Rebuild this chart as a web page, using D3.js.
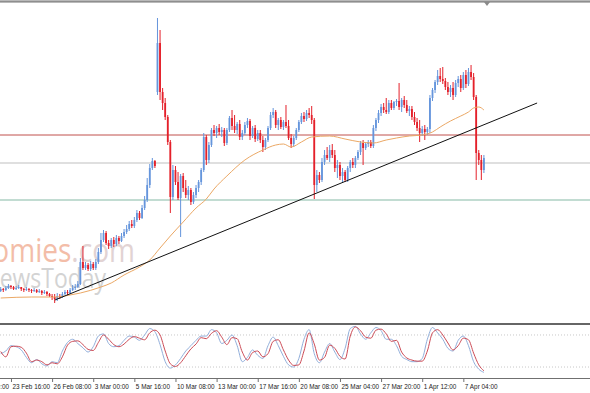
<!DOCTYPE html>
<html>
<head>
<meta charset="utf-8">
<script src="https://cdn.jsdelivr.net/npm/d3@7"></script>
<style>
  html, body { margin: 0; padding: 0; background: #fff; }
  svg { display: block; }
</style>
</head>
<body>
<svg id="chart" width="590" height="393"></svg>
<script>
// H4 candles, one value per bar (bar 0 .. 188)
const opens = [
  119.09, 119.11, 119.10, 119.12, 119.14, 119.13, 119.11, 119.12, 119.13, 119.11,
  119.10, 119.11, 119.10, 119.09, 119.10, 119.08, 119.09, 119.07, 119.08, 119.06,
  119.04, 119.03, 119.01, 119.04, 119.03, 119.06, 119.08, 119.07, 119.10, 119.12,
  119.13, 119.16, 119.38, 119.32, 119.35, 119.31, 119.36, 119.32, 119.38, 119.48,
  119.60, 119.67, 119.57, 119.54, 119.60, 119.56, 119.62, 119.59, 119.64, 119.68,
  119.71, 119.76, 119.74, 119.80, 119.87, 119.82, 119.92, 120.00, 120.15, 120.32,
  120.39, 121.08, 121.57, 121.08, 120.97, 120.83, 120.58, 120.03, 120.30, 120.18,
  120.02, 120.24, 120.12, 120.05, 120.10, 119.98, 120.05, 120.12, 120.18, 120.30,
  120.63, 120.40, 120.55, 120.70, 120.67, 120.72, 120.68, 120.70, 120.57, 120.70,
  120.82, 120.74, 120.70, 120.76, 120.63, 120.67, 120.75, 120.79, 120.64, 120.72,
  120.61, 120.67, 120.60, 120.53, 120.60, 120.72, 120.85, 120.88, 120.75, 120.80,
  120.73, 120.78, 120.74, 120.62, 120.56, 120.62, 120.70, 120.78, 120.84, 120.81,
  120.87, 120.85, 120.80, 120.15, 120.25, 120.20, 120.38, 120.45, 120.42, 120.50,
  120.45, 120.32, 120.35, 120.24, 120.28, 120.20, 120.32, 120.38, 120.35, 120.42,
  120.48, 120.57, 120.52, 120.56, 120.58, 120.54, 120.72, 120.80, 120.87, 120.93,
  120.90, 120.88, 120.97, 120.92, 120.98, 120.99, 120.93, 121.00, 120.95, 120.89,
  120.91, 120.83, 120.78, 120.72, 120.67, 120.71, 120.68, 120.71, 121.02, 121.10,
  121.18, 121.24, 121.21, 121.19, 121.13, 121.08, 121.12, 121.05, 121.17, 121.21,
  121.12, 121.25, 121.16, 121.28, 121.23, 121.03, 120.47, 120.40, 120.30
];
const highs = [
  119.13, 119.12, 119.14, 119.16, 119.15, 119.14, 119.14, 119.15, 119.13, 119.12,
  119.13, 119.12, 119.11, 119.12, 119.11, 119.11, 119.10, 119.10, 119.09, 119.07,
  119.06, 119.06, 119.07, 119.06, 119.08, 119.10, 119.10, 119.12, 119.15, 119.16,
  119.19, 119.42, 119.54, 119.38, 119.37, 119.39, 119.38, 119.41, 119.52, 119.67,
  119.70, 119.69, 119.60, 119.62, 119.63, 119.65, 119.64, 119.67, 119.71, 119.75,
  119.79, 119.80, 119.83, 119.90, 119.89, 119.95, 120.04, 120.22, 120.36, 120.42,
  120.40, 121.82, 121.70, 121.12, 121.02, 120.85, 120.60, 120.35, 120.34, 120.28,
  120.26, 120.27, 120.20, 120.14, 120.12, 120.08, 120.15, 120.20, 120.32, 120.67,
  120.65, 120.58, 120.72, 120.75, 120.74, 120.76, 120.73, 120.72, 120.72, 120.84,
  120.90, 120.85, 120.78, 120.80, 120.70, 120.78, 120.82, 120.81, 120.74, 120.75,
  120.70, 120.70, 120.64, 120.62, 120.74, 120.88, 120.92, 120.90, 120.82, 120.83,
  120.80, 120.95, 120.80, 120.66, 120.64, 120.72, 120.80, 120.87, 120.88, 120.90,
  120.92, 120.94, 120.82, 120.30, 120.28, 120.42, 120.50, 120.53, 120.55, 120.56,
  120.50, 120.40, 120.38, 120.32, 120.30, 120.34, 120.40, 120.42, 120.44, 120.50,
  120.59, 120.60, 120.58, 120.60, 120.60, 120.75, 120.82, 120.90, 120.96, 120.97,
  121.02, 121.00, 121.00, 120.99, 121.01, 121.17, 121.02, 121.04, 121.00, 120.94,
  120.94, 120.88, 120.82, 120.80, 120.74, 120.75, 120.73, 121.05, 121.12, 121.20,
  121.30, 121.32, 121.33, 121.22, 121.18, 121.15, 121.18, 121.20, 121.24, 121.25,
  121.28, 121.30, 121.32, 121.35, 121.27, 121.05, 120.50, 120.45, 120.45
];
const lows = [
  119.08, 119.08, 119.09, 119.11, 119.11, 119.10, 119.10, 119.11, 119.09, 119.08,
  119.09, 119.08, 119.07, 119.08, 119.07, 119.07, 119.05, 119.06, 119.04, 119.03,
  119.00, 118.97, 118.99, 119.01, 119.02, 119.05, 119.05, 119.06, 119.09, 119.10,
  119.12, 119.15, 119.30, 119.30, 119.29, 119.29, 119.30, 119.30, 119.36, 119.46,
  119.58, 119.55, 119.51, 119.52, 119.53, 119.54, 119.56, 119.58, 119.62, 119.66,
  119.69, 119.72, 119.72, 119.78, 119.80, 119.81, 119.90, 119.98, 120.12, 120.30,
  120.32, 121.05, 121.00, 120.90, 120.80, 120.55, 119.87, 120.00, 120.15, 120.00,
  119.63, 120.08, 120.02, 120.00, 119.95, 119.96, 120.02, 120.08, 120.15, 120.28,
  120.35, 120.37, 120.53, 120.64, 120.62, 120.65, 120.63, 120.54, 120.55, 120.68,
  120.70, 120.67, 120.66, 120.60, 120.60, 120.65, 120.72, 120.60, 120.62, 120.58,
  120.59, 120.57, 120.48, 120.50, 120.58, 120.70, 120.82, 120.72, 120.70, 120.71,
  120.70, 120.72, 120.60, 120.52, 120.53, 120.60, 120.68, 120.76, 120.78, 120.79,
  120.82, 120.76, 120.01, 120.08, 120.17, 120.18, 120.35, 120.40, 120.38, 120.42,
  120.28, 120.22, 120.20, 120.17, 120.18, 120.18, 120.28, 120.32, 120.32, 120.40,
  120.45, 120.35, 120.50, 120.53, 120.52, 120.52, 120.69, 120.77, 120.84, 120.87,
  120.86, 120.86, 120.90, 120.90, 120.94, 120.90, 120.88, 120.92, 120.87, 120.84,
  120.80, 120.75, 120.69, 120.58, 120.64, 120.60, 120.65, 120.67, 120.99, 121.07,
  121.15, 121.18, 121.16, 121.10, 121.05, 121.03, 121.00, 121.03, 121.13, 121.08,
  121.10, 121.12, 121.14, 121.20, 121.00, 120.20, 120.35, 120.20, 120.27
];
const closes = [
  119.11, 119.10, 119.12, 119.14, 119.13, 119.11, 119.12, 119.13, 119.11, 119.10,
  119.11, 119.10, 119.09, 119.10, 119.08, 119.09, 119.07, 119.08, 119.06, 119.04,
  119.03, 119.01, 119.04, 119.03, 119.06, 119.08, 119.07, 119.10, 119.12, 119.13,
  119.16, 119.38, 119.32, 119.35, 119.31, 119.36, 119.32, 119.38, 119.48, 119.60,
  119.67, 119.57, 119.54, 119.60, 119.56, 119.62, 119.59, 119.64, 119.68, 119.71,
  119.76, 119.74, 119.80, 119.87, 119.82, 119.92, 120.00, 120.15, 120.32, 120.39,
  120.34, 121.57, 121.08, 120.97, 120.83, 120.58, 120.03, 120.30, 120.18, 120.02,
  120.24, 120.12, 120.05, 120.10, 119.98, 120.05, 120.12, 120.18, 120.30, 120.63,
  120.40, 120.55, 120.70, 120.67, 120.72, 120.68, 120.70, 120.57, 120.70, 120.82,
  120.74, 120.70, 120.76, 120.63, 120.67, 120.75, 120.79, 120.64, 120.72, 120.61,
  120.67, 120.60, 120.53, 120.60, 120.72, 120.85, 120.88, 120.75, 120.80, 120.73,
  120.78, 120.74, 120.62, 120.56, 120.62, 120.70, 120.78, 120.84, 120.81, 120.87,
  120.85, 120.80, 120.15, 120.25, 120.20, 120.38, 120.45, 120.42, 120.50, 120.45,
  120.32, 120.35, 120.24, 120.28, 120.20, 120.32, 120.38, 120.35, 120.42, 120.48,
  120.57, 120.52, 120.56, 120.58, 120.54, 120.72, 120.80, 120.87, 120.93, 120.90,
  120.88, 120.97, 120.92, 120.98, 120.99, 120.93, 121.00, 120.95, 120.89, 120.91,
  120.83, 120.78, 120.72, 120.67, 120.71, 120.68, 120.71, 121.02, 121.10, 121.18,
  121.24, 121.21, 121.19, 121.13, 121.08, 121.12, 121.05, 121.17, 121.21, 121.12,
  121.25, 121.16, 121.28, 121.23, 121.03, 120.47, 120.40, 120.30, 120.42
];

// moving average at these bars
const maBars = [0, 12, 21, 27, 31, 39, 43, 48, 54, 58, 62, 66, 71, 76, 80, 83, 88, 95, 102, 107,
  110, 113, 117, 121, 128, 134, 140, 145, 150, 154, 159, 164, 168, 171, 175, 179, 182, 184, 186, 188];
const maValues = [119.02, 119.03, 119.03, 119.05, 119.07, 119.13, 119.17, 119.25, 119.33, 119.40,
  119.52, 119.64, 119.78, 119.92, 120.01, 120.11, 120.24, 120.40, 120.50, 120.55,
  120.56, 120.53, 120.58, 120.63, 120.64, 120.61, 120.58, 120.57, 120.60, 120.62,
  120.64, 120.65, 120.68, 120.73, 120.79, 120.84, 120.88, 120.92, 120.93, 120.90];

// trendline and horizontal levels
const trendBars = [21.1, 208.7];
const trendValues = [119.00, 120.97];
const levelValues = [120.65, 120.37, 120.00];

// stochastic, sampled every second bar
const stochK = [45, 50, 60, 58, 52, 38, 28, 34, 26, 22, 30, 28, 50, 66, 72, 64, 56, 48, 58, 78,
  82, 64, 58, 60, 70, 78, 76, 70, 80, 92, 86, 62, 30, 18, 24, 36, 50, 60, 70, 78,
  78, 90, 84, 64, 70, 80, 60, 30, 38, 52, 42, 36, 60, 76, 60, 40, 24, 20, 36, 72,
  90, 45, 28, 48, 64, 48, 34, 55, 92, 96, 82, 72, 84, 94, 88, 72, 72, 60, 40, 34,
  30, 30, 36, 72, 94, 84, 72, 55, 50, 70, 78, 60, 30, 16, 10];
const stochD = [49, 39, 58, 59, 57, 46, 30, 33, 30, 24, 28, 26, 39, 61, 68, 69, 62, 53, 51, 66,
  80, 72, 62, 58, 63, 72, 77, 74, 71, 84, 89, 80, 50, 26, 21, 28, 41, 54, 63, 75,
  73, 83, 88, 76, 62, 75, 73, 48, 33, 47, 50, 39, 45, 68, 71, 52, 33, 23, 24, 50,
  84, 63, 33, 38, 61, 55, 40, 35, 78, 95, 88, 76, 74, 89, 91, 82, 68, 70, 48, 37,
  33, 31, 31, 50, 84, 90, 80, 65, 52, 60, 74, 71, 46, 24, 13];
const stochLevels = [80, 20];

// time axis
const tickBars = [-12, 4, 20, 36, 52, 68, 84, 100, 116, 132, 148, 164, 180];
const tickLabels = ["19 Feb 00:00", "23 Feb 16:00", "26 Feb 08:00", "3 Mar 00:00", "5 Mar 16:00",
  "10 Mar 08:00", "13 Mar 00:00", "17 Mar 16:00", "20 Mar 08:00", "25 Mar 04:00",
  "27 Mar 20:00", "1 Apr 12:00", "7 Apr 04:00"];

const W = 590, H = 393;
const svg = d3.select('#chart');

const x = d3.scaleLinear().domain([0, 188]).range([0.7, 483.9]);
const y = d3.scaleLinear().domain([118.80, 122.00]).range([320, 0]);
const ys = d3.scaleLinear().domain([0, 100]).range([377.7, 324.3]);

svg.append('defs').append('clipPath').attr('id', 'clipMain')
  .append('rect').attr('x', 0).attr('y', 3).attr('width', W).attr('height', 319);

// watermark (squeezed a little, like the rest of the screenshot)
const wm = svg.append('g').attr('clip-path', 'url(#clipMain)')
  .style('font-family', '"Open Sans", sans-serif');
const wm1 = wm.append('g').attr('transform', 'translate(135,262) scale(0.85,1)')
  .append('text').attr('text-anchor', 'end').style('font-size', '33px');
wm1.append('tspan').attr('fill', '#f3bda8').text('Economies');
wm1.append('tspan').attr('fill', '#e2d3d3').text('.com');
wm.append('g').attr('transform', 'translate(106,288) scale(0.85,1)')
  .append('text').attr('text-anchor', 'end').style('font-size', '27px')
  .attr('fill', '#d3d3d3').text('NewsToday');

const main = svg.append('g').attr('clip-path', 'url(#clipMain)');

// horizontal levels
const levelColors = ['#c0504d', '#d4d4d4', '#aed1c3'];
const levelWidths = [1, 1.6, 1.6];
main.selectAll('line.level')
  .data(levelValues)
  .enter().append('line')
  .attr('class', 'level')
  .attr('x1', 0).attr('x2', W)
  .attr('y1', d => y(d)).attr('y2', d => y(d))
  .attr('stroke', (d, i) => levelColors[i])
  .attr('stroke-width', (d, i) => levelWidths[i]);

// candles
const bars = d3.range(closes.length).map(i => ({
  i: i, o: opens[i], h: highs[i], l: lows[i], c: closes[i]
}));
const bull = '#6595dc', bear = '#e4202a';
const candle = main.selectAll('g.candle')
  .data(bars)
  .enter().append('g')
  .attr('class', 'candle');
candle.append('line')
  .attr('x1', d => x(d.i)).attr('x2', d => x(d.i))
  .attr('y1', d => y(d.h)).attr('y2', d => y(d.l))
  .attr('stroke', d => d.c >= d.o ? bull : bear)
  .attr('stroke-width', 1);
candle.append('rect')
  .attr('x', d => x(d.i) - 0.9)
  .attr('width', 1.8)
  .attr('y', d => y(Math.max(d.o, d.c)))
  .attr('height', d => Math.max(1, Math.abs(y(d.o) - y(d.c))))
  .attr('fill', d => d.c >= d.o ? bull : bear);

// moving average
main.append('path')
  .datum(maBars.map((b, i) => [b, maValues[i]]))
  .attr('fill', 'none')
  .attr('stroke', '#eba865')
  .attr('stroke-width', 1)
  .attr('d', d3.line().x(d => x(d[0])).y(d => y(d[1])).curve(d3.curveMonotoneX));

// trendline
main.append('line')
  .attr('x1', x(trendBars[0])).attr('y1', y(trendValues[0]))
  .attr('x2', x(trendBars[1])).attr('y2', y(trendValues[1]))
  .attr('stroke', '#111')
  .attr('stroke-width', 1);

// frame bits
svg.append('rect').attr('x', 0).attr('y', 0).attr('width', W).attr('height', 3).attr('fill', '#b9b9b9');
svg.append('line').attr('x1', 0).attr('x2', W).attr('y1', 1.5).attr('y2', 1.5)
  .attr('stroke', '#8e8e8e').attr('stroke-width', 1);
svg.append('path')
  .attr('d', 'M484,2 L490,2 L487,6 Z')
  .attr('fill', '#8a8a8a');
svg.append('line').attr('x1', 0).attr('x2', W).attr('y1', 324).attr('y2', 324)
  .attr('stroke', '#666').attr('stroke-width', 2);

// stochastic panel
svg.selectAll('line.slevel')
  .data(stochLevels)
  .enter().append('line')
  .attr('class', 'slevel')
  .attr('x1', 0).attr('x2', W)
  .attr('y1', d => ys(d)).attr('y2', d => ys(d))
  .attr('stroke', '#c8c8c8')
  .attr('stroke-width', 1)
  .attr('stroke-dasharray', '1,2');

const stochBars = d3.range(0, 189, 2);
const sline = d3.line().x((d, i) => x(stochBars[i])).y(d => ys(d)).curve(d3.curveMonotoneX);
svg.append('path').datum(stochK)
  .attr('fill', 'none').attr('stroke', '#92afdb').attr('stroke-width', 1)
  .attr('d', sline);
svg.append('path').datum(stochD)
  .attr('fill', 'none').attr('stroke', '#cc4a55').attr('stroke-width', 1)
  .attr('d', sline);

// time axis
const axis = d3.axisBottom(x)
  .tickValues(tickBars)
  .tickFormat((d, i) => tickLabels[i])
  .tickSize(4)
  .tickPadding(2);
const gx = svg.append('g').attr('transform', 'translate(0,378)').call(axis);
gx.select('.domain').attr('d', 'M0,0.5H' + W).attr('stroke', '#707070');
gx.selectAll('.tick line').attr('stroke', '#707070');
gx.selectAll('.tick text')
  .attr('text-anchor', 'start')
  .attr('x', 1)
  .attr('fill', '#222')
  .style('font-family', '"Liberation Sans", Arial, sans-serif')
  .style('font-size', '6.4px');
</script>
</body>
</html>
